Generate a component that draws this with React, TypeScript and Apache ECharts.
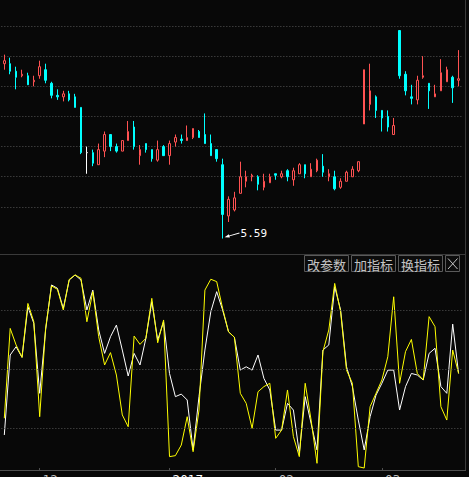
import React, { useEffect, useRef } from 'react';
import * as echarts from 'echarts';

// [open, close, low, high]
const candles: number[][] = [
  [6.75, 6.77, 6.71, 6.81], [6.75, 6.70, 6.68, 6.79], [6.70, 6.66, 6.58, 6.73], [6.67, 6.68, 6.66, 6.71],
  [6.67, 6.61, 6.61, 6.69], [6.63, 6.64, 6.60, 6.67], [6.67, 6.73, 6.65, 6.77], [6.71, 6.64, 6.62, 6.75],
  [6.62, 6.54, 6.52, 6.63], [6.54, 6.53, 6.51, 6.58], [6.53, 6.55, 6.50, 6.57], [6.55, 6.51, 6.50, 6.57],
  [6.53, 6.46, 6.46, 6.55], [6.46, 6.16, 6.15, 6.46], [6.16, 6.16, 6.02, 6.20], [6.16, 6.09, 6.07, 6.18],
  [6.08, 6.18, 6.08, 6.22], [6.17, 6.28, 6.13, 6.30], [6.28, 6.20, 6.17, 6.28], [6.20, 6.17, 6.16, 6.22],
  [6.17, 6.24, 6.17, 6.24], [6.24, 6.30, 6.24, 6.37], [6.33, 6.20, 6.18, 6.37], [6.14, 6.18, 6.08, 6.21],
  [6.22, 6.18, 6.16, 6.22], [6.18, 6.12, 6.10, 6.18], [6.11, 6.18, 6.10, 6.24], [6.20, 6.14, 6.14, 6.21],
  [6.14, 6.22, 6.08, 6.24], [6.23, 6.26, 6.20, 6.28], [6.25, 6.24, 6.22, 6.28], [6.24, 6.26, 6.24, 6.34],
  [6.26, 6.32, 6.25, 6.32], [6.30, 6.26, 6.26, 6.31], [6.28, 6.22, 6.22, 6.42], [6.22, 6.14, 6.14, 6.28],
  [6.18, 6.12, 6.10, 6.18], [6.08, 5.75, 5.59, 6.12], [5.74, 5.85, 5.70, 5.87], [5.78, 5.86, 5.77, 5.90],
  [5.89, 6.00, 5.89, 6.10], [5.97, 6.00, 5.93, 6.04], [6.00, 6.01, 5.97, 6.02], [6.00, 5.95, 5.91, 6.01],
  [5.93, 5.97, 5.91, 6.02], [5.96, 6.00, 5.96, 6.02], [6.02, 6.01, 5.98, 6.02], [6.00, 6.02, 5.99, 6.04],
  [6.04, 6.00, 5.97, 6.05], [5.98, 6.04, 5.94, 6.06], [6.02, 6.08, 6.02, 6.09], [6.08, 6.02, 5.99, 6.08],
  [6.00, 6.05, 6.00, 6.09], [6.04, 6.11, 6.03, 6.12], [6.07, 6.03, 6.00, 6.15], [6.00, 6.02, 5.97, 6.05],
  [6.00, 5.92, 5.91, 6.04], [5.93, 5.97, 5.92, 5.99], [5.97, 6.03, 5.97, 6.04], [6.00, 6.05, 6.00, 6.07],
  [6.04, 6.10, 6.03, 6.10], [6.35, 6.71, 6.35, 6.71], [6.48, 6.57, 6.44, 6.75], [6.53, 6.44, 6.39, 6.54],
  [6.44, 6.39, 6.30, 6.44], [6.40, 6.33, 6.30, 6.44], [6.28, 6.34, 6.28, 6.39], [6.97, 6.67, 6.65, 6.97],
  [6.68, 6.57, 6.54, 6.70], [6.53, 6.52, 6.48, 6.61], [6.51, 6.64, 6.48, 6.67], [6.66, 6.67, 6.65, 6.80],
  [6.62, 6.57, 6.45, 6.62], [6.53, 6.55, 6.53, 6.61], [6.57, 6.69, 6.57, 6.78], [6.63, 6.71, 6.63, 6.73],
  [6.66, 6.59, 6.49, 6.67], [6.64, 6.65, 6.60, 6.84],
];
const whiteDojiIndex = [14];

const whiteLine = [
  16.8, 57.5, 61.7, 56.3, 82.0, 73.6, 38.0, 70.2, 93.1, 91.4,
  81.2, 95.6, 98.2, 95.6, 80.4, 90.5, 70.2, 58.3, 66.8, 72.7,
  60.0, 46.8, 58.3, 52.4, 66.0, 84.6, 65.1, 74.4, 48.1, 36.3,
  37.6, 34.6, 9.2, 36.3, 60.0, 79.5, 89.7, 80.4, 69.3, 66.5,
  49.8, 51.5, 49.8, 57.5, 45.6, 39.7, 19.3, 19.3, 32.9, 29.5,
  7.5, 36.3, 22.7, 9.2, 60.0, 62.6, 92.2, 80.4, 51.5, 41.4,
  24.4, 9.2, 26.1, 37.1, 43.1, 49.8, 49.8, 29.5, 41.4, 48.1,
  47.3, 44.8, 58.3, 60.9, 41.4, 38.0, 73.2, 48.1,
];
const yellowLine = [
  25.3, 71.0, 62.6, 56.3, 83.7, 74.4, 26.1, 71.0, 92.6, 90.9,
  80.4, 95.9, 98.2, 96.5, 74.4, 89.7, 66.8, 52.4, 58.7, 47.3,
  27.0, 21.0, 67.1, 62.9, 66.0, 86.3, 63.7, 75.3, 5.8, 6.3,
  11.7, 26.1, 8.3, 29.5, 90.5, 96.0, 94.8, 81.2, 69.3, 66.5,
  38.0, 32.9, 20.2, 38.8, 41.4, 43.1, 15.1, 19.3, 39.7, 16.0,
  5.8, 43.1, 24.4, 2.4, 59.2, 70.2, 93.9, 79.5, 49.8, 43.1,
  0.7, 0.0, 31.2, 38.0, 44.8, 56.6, 87.1, 43.1, 59.2, 65.4,
  48.1, 44.8, 77.0, 71.9, 31.2, 24.4, 60.0, 48.1,
];

const tickIndex = [6, 28, 46, 64];
const tickLabels = ['12', '2017', '02', '03'];
const levelLines = [20, 50, 80];
const buttonLabels = ['改参数', '加指标', '换指标'];

const BG = '#080808';
const RED = '#ff5252';
const CYAN = '#00ffff';

export default function App() {
  const ref = useRef<HTMLDivElement>(null);
  useEffect(() => {
    document.body.style.margin = '0';
    document.body.style.background = BG;
    const chart = echarts.init(ref.current!, null, { renderer: 'svg' });
    const categories = candles.map((_, i) => String(i));

    let minIdx = 0;
    candles.forEach((c, i) => { if (c[2] < candles[minIdx][2]) minIdx = i; });
    const minLow = candles[minIdx][2];

    const candleData = candles.map((c, i) =>
      whiteDojiIndex.includes(i)
        ? { value: c, itemStyle: { color: '#fff', color0: '#fff', borderColor: '#fff', borderColor0: '#fff', borderColorDoji: '#fff' } }
        : { value: c }
    );

    const gridLeft = 1.35;
    const gridRight = 7.45;

    const graphics: any[] = [
      { type: 'line', shape: { x1: 0, y1: 254.5, x2: 465, y2: 254.5 }, style: { stroke: '#3a3a3a', lineWidth: 1 }, silent: true },
      { type: 'line', shape: { x1: 465.5, y1: 0, x2: 465.5, y2: 470 }, style: { stroke: '#3a3a3a', lineWidth: 1 }, silent: true },
      { type: 'line', shape: { x1: 0, y1: 470.5, x2: 466, y2: 470.5 }, style: { stroke: '#505050', lineWidth: 1 }, silent: true },
    ];
    const btnX = [304.5, 351.5, 398.5];
    buttonLabels.forEach((t, i) => {
      graphics.push({
        type: 'rect', shape: { x: btnX[i], y: 255.5, width: 44, height: 16 },
        style: { fill: '#0c0c0c', stroke: '#5a5a5a', lineWidth: 1 }, silent: true,
      });
      graphics.push({
        type: 'text', x: btnX[i] + 22, y: 264,
        style: { text: t, fill: '#c4c4c4', font: '13px "Noto Sans CJK SC"', align: 'center', verticalAlign: 'middle' },
        silent: true,
      });
    });
    graphics.push({
      type: 'rect', shape: { x: 445.5, y: 255.5, width: 14, height: 16 },
      style: { fill: '#0c0c0c', stroke: '#5a5a5a', lineWidth: 1 }, silent: true,
    });
    graphics.push({ type: 'line', shape: { x1: 448, y1: 258.5, x2: 457.5, y2: 269 }, style: { stroke: '#c4c4c4', lineWidth: 1 }, silent: true });
    graphics.push({ type: 'line', shape: { x1: 457.5, y1: 258.5, x2: 448, y2: 269 }, style: { stroke: '#c4c4c4', lineWidth: 1 }, silent: true });

    const option: any = {
      animation: false,
      backgroundColor: BG,
      grid: [
        { left: gridLeft, right: gridRight, top: 26, height: 211.05, outerBoundsMode: 'none', containLabel: false },
        { left: gridLeft, right: gridRight, top: 271.4, bottom: 7, outerBoundsMode: 'none', containLabel: false },
      ],
      xAxis: [
        {
          type: 'category', gridIndex: 0, data: categories, boundaryGap: true,
          axisLine: { show: false }, axisTick: { show: false }, axisLabel: { show: false }, splitLine: { show: false },
        },
        {
          type: 'category', gridIndex: 1, data: categories, boundaryGap: true,
          axisLine: { show: false },
          axisTick: {
            show: true, alignWithLabel: true, length: 3,
            interval: (i: number) => tickIndex.includes(i),
            lineStyle: { color: '#505050', width: 1 },
          },
          axisLabel: {
            show: true, margin: 4, align: 'left', padding: [0, 0, 0, 3],
            interval: (i: number) => tickIndex.includes(i),
            formatter: (_v: string, i: number) => {
              const k = tickIndex.indexOf(i);
              if (k < 0) return '';
              return tickLabels[k].length === 4 ? `{y|${tickLabels[k]}}` : `{m|${tickLabels[k]}}`;
            },
            rich: {
              y: { color: '#ffffff', fontSize: 12, fontFamily: 'DejaVu Sans' },
              m: { color: '#bdbdbd', fontSize: 12, fontFamily: 'DejaVu Sans' },
            },
          },
          splitLine: { show: false },
        },
      ],
      yAxis: [
        {
          type: 'value', gridIndex: 0, min: 5.6, max: 7.0, interval: 0.2,
          axisLine: { show: false }, axisTick: { show: false }, axisLabel: { show: false },
          splitLine: { show: true, showMinLine: false, lineStyle: { color: '#555555', width: 1, type: [1, 2] } },
        },
        {
          type: 'value', gridIndex: 1, min: -1, max: 100,
          axisLine: { show: false }, axisTick: { show: false }, axisLabel: { show: false },
          splitLine: { show: false },
        },
      ],
      series: [
        {
          type: 'candlestick', xAxisIndex: 0, yAxisIndex: 0, data: candleData,
          barWidth: 2, clip: false,
          itemStyle: { color: BG, color0: CYAN, borderColor: RED, borderColor0: CYAN, borderColorDoji: '#ffffff', borderWidth: 1 },
        },
        {
          type: 'scatter', xAxisIndex: 0, yAxisIndex: 0, clip: false, silent: true, z: 5,
          data: [[minIdx, minLow]],
          symbol: 'path://M0,5L4.31,1.89L4.67,3.14L14.86,0.22L15.14,1.18L4.95,4.1L5.3,5.35Z',
          symbolSize: [15, 5.1],
          symbolOffset: [9.5, -3.5],
          itemStyle: { color: '#ffffff', opacity: 1 },
          label: {
            show: true, position: 'right', distance: 1, offset: [0, -1.5],
            formatter: () => minLow.toFixed(2),
            color: '#ffffff', fontSize: 11, fontFamily: 'DejaVu Sans Mono',
          },
        },
        {
          type: 'line', xAxisIndex: 1, yAxisIndex: 1, data: whiteLine,
          showSymbol: false, symbol: 'none', lineStyle: { color: '#ffffff', width: 1 },
          markLine: {
            silent: true, symbol: ['none', 'none'], label: { show: false },
            lineStyle: { color: '#555555', width: 1, type: [1, 2] },
            data: levelLines.map((v) => ({ yAxis: v })),
          },
        },
        {
          type: 'line', xAxisIndex: 1, yAxisIndex: 1, data: yellowLine,
          showSymbol: false, symbol: 'none', lineStyle: { color: '#ffff00', width: 1 },
        },
      ],
      graphic: graphics,
    };
    chart.setOption(option);
    return () => chart.dispose();
  }, []);
  return <div ref={ref} style={{ position: 'absolute', left: 0, top: 0, width: 469, height: 477, background: BG }} />;
}
